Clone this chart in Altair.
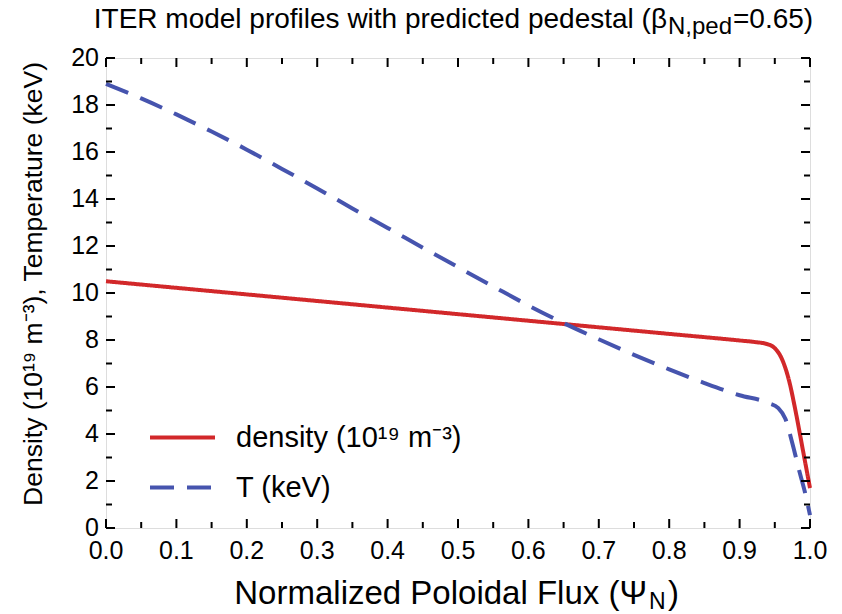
import altair as alt
import pandas as pd

FONT = "Liberation Sans"
RED = "#d2282a"
BLUE = "#4654ae"

# ---- data ----
psi_density = [0.0, 0.1, 0.2, 0.3, 0.4, 0.5, 0.6, 0.7, 0.8, 0.9, 0.92, 0.94, 0.95,
               0.96, 0.97, 0.98, 0.99, 1.0]
density = [10.5, 10.22, 9.94, 9.66, 9.38, 9.1, 8.82, 8.54, 8.26, 7.98, 7.92, 7.82, 7.65,
           7.2, 6.3, 4.9, 3.3, 1.7]

psi_temp = [0.0, 0.05, 0.1, 0.15, 0.2, 0.25, 0.3, 0.35, 0.4, 0.45, 0.5, 0.55, 0.6, 0.65,
            0.7, 0.75, 0.8, 0.85, 0.9, 0.94, 0.955, 0.965, 0.975, 0.985, 0.993, 1.0]
temp = [18.9, 18.28, 17.6, 16.87, 16.1, 15.28, 14.45, 13.6, 12.77, 11.93, 11.1, 10.28,
        9.47, 8.72, 8.03, 7.37, 6.75, 6.17, 5.65, 5.33, 5.1, 4.65, 3.6, 2.4, 1.5, 0.55]

series_names = ["density (10\u00b9\u2079 m\u207b\u00b3)", "T (keV)"]

x_major = [0.0, 0.1, 0.2, 0.3, 0.4, 0.5, 0.6, 0.7, 0.8, 0.9, 1.0]
x_major_labels = ["0.0", "0.1", "0.2", "0.3", "0.4", "0.5", "0.6", "0.7", "0.8", "0.9", "1.0"]
x_minor = [0.05, 0.15, 0.25, 0.35, 0.45, 0.55, 0.65, 0.75, 0.85, 0.95]
y_major = [0, 2, 4, 6, 8, 10, 12, 14, 16, 18, 20]
y_major_labels = ["0", "2", "4", "6", "8", "10", "12", "14", "16", "18", "20"]
y_minor = [1, 3, 5, 7, 9, 11, 13, 15, 17, 19]

title_main = "ITER model profiles with predicted pedestal (\u03b2"
title_sub = "N,ped"
title_end = "=0.65)"
xtitle_main = "Normalized Poloidal Flux (\u03a8"
xtitle_sub = "N"
xtitle_end = ")"
ytitle = "Density (10\u00b9\u2079 m\u207b\u00b3), Temperature (keV)"

# ---- layout ----
W, H = 704, 470
xscale = alt.Scale(domain=[0, 1], nice=False, zero=False)
yscale = alt.Scale(domain=[0, 20], nice=False, zero=False)

df = pd.concat([
    pd.DataFrame({"psi": psi_density, "val": density, "series": series_names[0], "order": 0}),
    pd.DataFrame({"psi": psi_temp, "val": temp, "series": series_names[1], "order": 1}),
])

legend = alt.Legend(
    title=None, orient="none", legendX=42, legendY=345,
    symbolType="stroke", symbolSize=4225, symbolStrokeWidth=4,
    labelFontSize=29, labelFont=FONT, labelColor="black", labelOffset=19,
    rowPadding=-4, padding=0, labelLimit=0,
)

lines = alt.Chart(df).mark_line(strokeWidth=4, interpolate="monotone").encode(
    x=alt.X("psi:Q", scale=xscale, axis=None),
    y=alt.Y("val:Q", scale=yscale, axis=None),
    color=alt.Color("series:N", scale=alt.Scale(domain=series_names, range=[RED, BLUE]),
                    legend=legend),
    strokeDash=alt.StrokeDash("series:N",
                              scale=alt.Scale(domain=series_names, range=[[1, 0], [24, 13]]),
                              legend=legend),
    order="order:Q",
)


def xticks(vals, length, top):
    d = pd.DataFrame({"v": vals})
    if top:
        ys = dict(y=alt.value(0), y2=alt.value(length))
    else:
        ys = dict(y=alt.value(H), y2=alt.value(H - length))
    return alt.Chart(d).mark_rule(color="black", strokeWidth=2).encode(
        x=alt.X("v:Q", scale=xscale, axis=None), **ys)


def yticks(vals, length, right):
    d = pd.DataFrame({"v": vals})
    if right:
        xs = dict(x=alt.value(W), x2=alt.value(W - length))
    else:
        xs = dict(x=alt.value(0), x2=alt.value(length))
    return alt.Chart(d).mark_rule(color="black", strokeWidth=2).encode(
        y=alt.Y("v:Q", scale=yscale, axis=None), **xs)


ticks = [
    xticks(x_major, 9, False), xticks(x_minor, 6, False),
    xticks(x_major, 9, True), xticks(x_minor, 6, True),
    yticks(y_major, 9, False), yticks(y_minor, 6, False),
    yticks(y_major, 9, True), yticks(y_minor, 6, True),
]

xlabels = alt.Chart(pd.DataFrame({"v": x_major, "label": x_major_labels})).mark_text(
    font=FONT, fontSize=25, color="black", align="center", baseline="alphabetic"
).encode(x=alt.X("v:Q", scale=xscale, axis=None), y=alt.value(H + 31), text="label:N")

ylabels = alt.Chart(pd.DataFrame({"v": y_major, "label": y_major_labels})).mark_text(
    font=FONT, fontSize=25, color="black", align="right", baseline="middle"
).encode(y=alt.Y("v:Q", scale=yscale, axis=None), x=alt.value(-7), text="label:N")


def txt(s, x, y, size, align="left", angle=0, baseline="alphabetic"):
    return alt.Chart(pd.DataFrame({"t": [s]})).mark_text(
        font=FONT, fontSize=size, color="black", align=align, baseline=baseline, angle=angle
    ).encode(x=alt.value(x), y=alt.value(y), text="t:N")


texts = [
    txt(title_main, 561, -30, 28, align="right"),
    txt(title_sub, 562, -24, 24),
    txt(title_end, 627, -30, 28),
    txt(xtitle_main, 541, 546, 33, align="right"),
    txt(xtitle_sub, 543, 551, 23),
    txt(xtitle_end, 562, 546, 33),
    txt(ytitle, -72, 226, 26.5, align="center", angle=270, baseline="middle"),
]

chart = alt.layer(lines, *ticks, xlabels, ylabels, *texts).properties(
    width=W, height=H,
    autosize=alt.AutoSizeParams(type="none"),
    padding={"left": 106, "top": 58, "right": 32, "bottom": 86},
).configure_view(stroke="black", strokeWidth=2).configure(background="white")

chart.save("out.html", embed_options={"renderer": "svg", "actions": False})
